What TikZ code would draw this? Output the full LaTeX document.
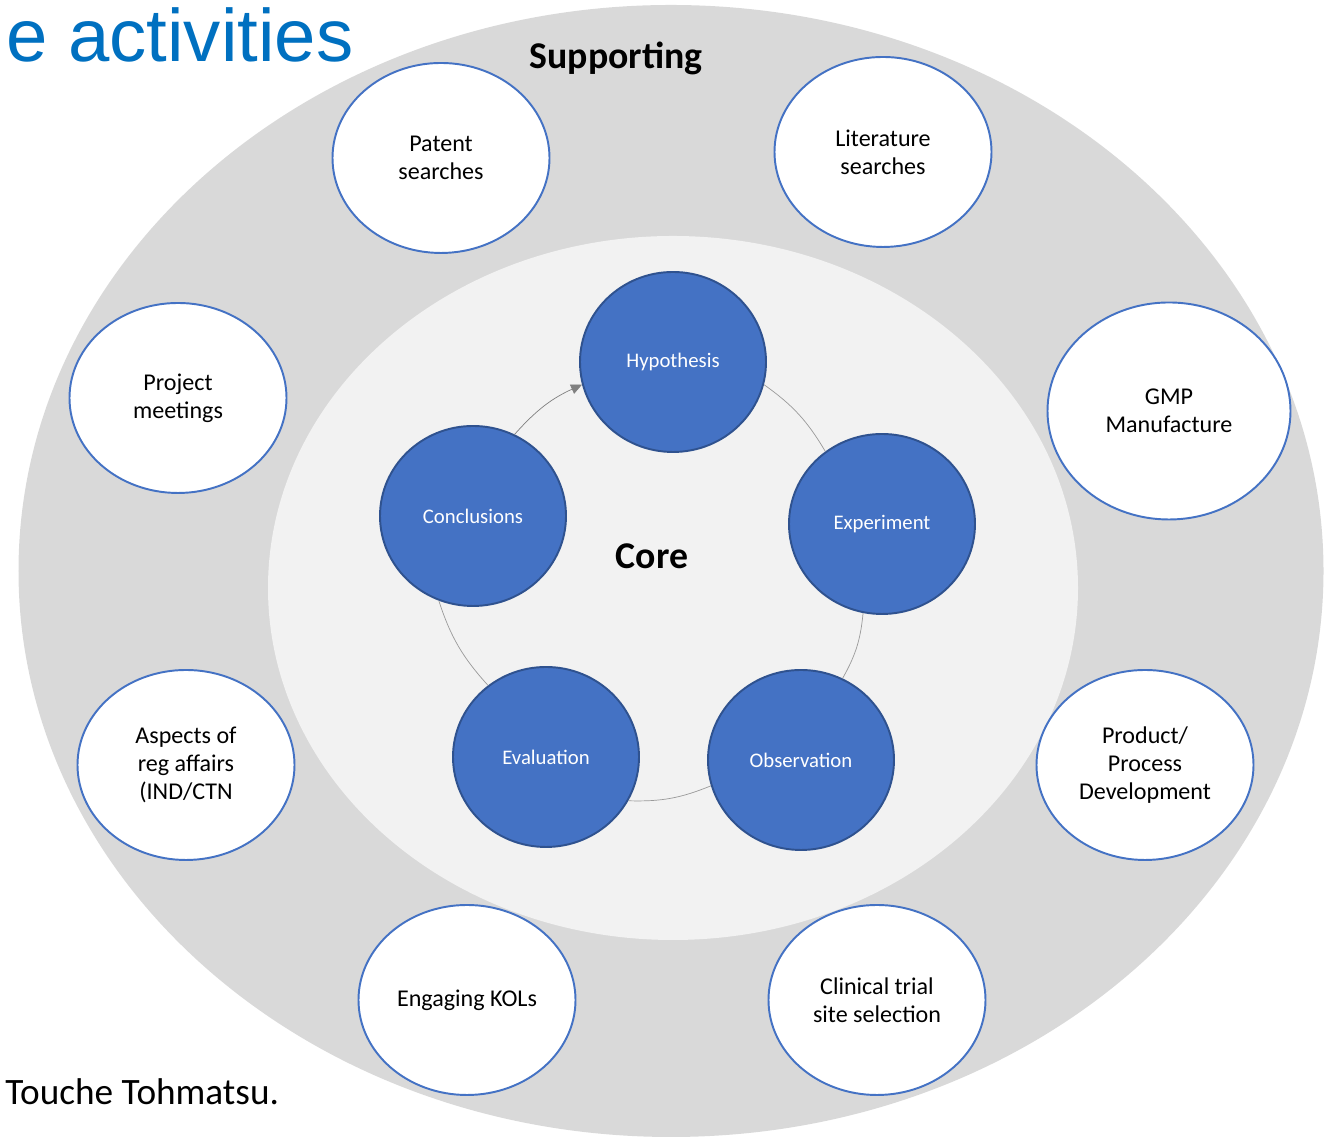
\documentclass[tikz,border=0pt]{standalone}
\usepackage{fontspec}
\setmainfont{Carlito}
\newfontfamily\titlefont{Liberation Sans}
\usetikzlibrary{arrows,arrows.meta,shapes.geometric}
\definecolor{outergray}{HTML}{D9D9D9}
\definecolor{innergray}{HTML}{F2F2F2}
\definecolor{coreblue}{HTML}{4472C4}
\definecolor{coreedge}{HTML}{2F528F}
\definecolor{titleblue}{HTML}{0070C0}
\definecolor{cyclegray}{HTML}{9A9A9A}

\begin{document}
\begin{tikzpicture}[>={Triangle[length=2.2mm,width=2mm]},
                    core node/.style={ellipse,draw=coreedge,fill=coreblue,line width=1.1pt,
                      minimum width=3.72cm,minimum height=3.6cm,text=white,
                      font={\fontsize{11.8pt}{14pt}\selectfont}},
                    support node/.style={ellipse,draw=coreblue,fill=white,line width=1.1pt,
                      minimum width=4.34cm,minimum height=3.8cm,align=center,
                      font={\fontsize{13.7pt}{15.8pt}\selectfont}}]
  \useasboundingbox (0,0) rectangle (26.52,22.76);

  % background rings
  \fill[outergray] (13.42,11.34) ellipse [x radius=13.05cm,y radius=11.32cm];
  \fill[innergray] (13.46,11.0) ellipse [x radius=8.1cm,y radius=7.04cm];

  \node[font={\fontsize{21.5pt}{25pt}\selectfont\bfseries}] (supp) at (12.32,21.6) {Supporting};
  \node[font={\fontsize{21.5pt}{25pt}\selectfont\bfseries}] (core) at (13.04,11.64) {Core};

  % core cycle
  \node[core node] (hyp) at (13.46,15.52) {Hypothesis};
  \node[core node] (exp) at (17.64,12.28) {Experiment};
  \node[core node] (obs) at (16.02,7.56) {Observation};
  \node[core node] (eva) at (10.92,7.62) {Evaluation};
  \node[core node] (con) at (9.46,12.44) {Conclusions};
  \path[draw,color=cyclegray,line width=0.4pt]
    (hyp.-14) edge [bend left=12] (exp.128)
    (exp.-102) edge [bend left=12] (obs.63)
    (obs.196) edge [bend left=12] (eva.-28)
    (eva.129) edge [bend left=12] (con.248)
    (con.63) edge [->,color=gray,bend left=12] (hyp.194);

  % supporting activities
  \node[support node] (pat) at (8.82,19.6) {Patent\\searches};
  \node[support node] (lit) at (17.66,19.72) {Literature\\searches};
  \node[support node] (pro) at (3.56,14.8) {Project\\meetings};
  \node[support node,minimum width=4.86cm,minimum height=4.34cm] (gmp) at (23.38,14.54) {GMP\\Manufacture};
  \node[support node] (reg) at (3.72,7.46) {Aspects of\\reg affairs\\(IND/CTN};
  \node[support node] (dev) at (22.9,7.46) {Product/\\Process\\Development};
  \node[support node] (kol) at (9.34,2.76) {Engaging KOLs};
  \node[support node] (site) at (17.54,2.76) {Clinical trial\\site selection};

  % cropped slide texts
  \node[anchor=base west,inner sep=0pt,text=titleblue,font={\titlefont\fontsize{42.3pt}{50pt}\selectfont}] (title) at (0.12,21.52) {e activities};
  \node[anchor=base west,inner sep=0pt,font={\fontsize{21.2pt}{25pt}\selectfont}] (foot) at (0.1,0.66) {Touche Tohmatsu.};
\end{tikzpicture}
\end{document}
